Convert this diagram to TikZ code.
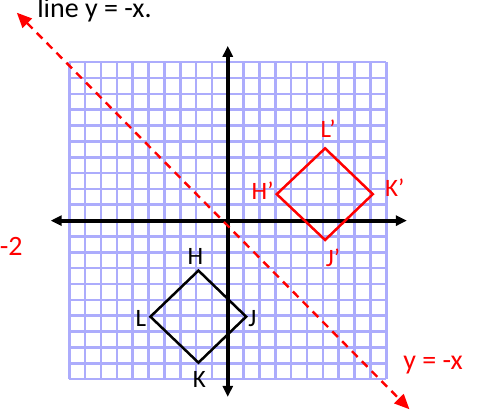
\documentclass[tikz,border=0pt]{standalone}
\usepackage{fontspec}
\setmainfont{Carlito}
\usetikzlibrary{arrows.meta,positioning}
\definecolor{gridblue}{RGB}{172,172,252}
\definecolor{refred}{RGB}{255,0,0}

\begin{document}
\begin{tikzpicture}[
    x=15.85pt, y=15.85pt,
    gridline/.style={gridblue, line width=2.6pt, step=15.85pt},
    axis/.style={<->, >={Triangle[length=11pt,width=10pt]}, line width=4pt},
    mirror/.style={<->, >={Triangle[length=15pt,width=13pt]}, refred, line width=2.4pt, dash pattern=on 8pt off 6pt},
    figline/.style={line width=2.5pt, line join=miter},
    lbl/.style={inner sep=1pt, font=\fontsize{25}{29}\selectfont},
    captext/.style={inner sep=0pt, font=\fontsize{28}{32}\selectfont}
]
    \useasboundingbox (-14.37,-12.07) rectangle (15.85,13.92);

    % grid and axes
    \draw[gridline] (-10,-10) grid (10,10);
    \coordinate (xl) at (-11.17,0);
    \coordinate (xr) at (11.3,0);
    \coordinate (yt) at (0,11.03);
    \coordinate (yb) at (0,-11.12);
    \draw[axis] (xl) -- (xr);
    \draw[axis] (yb) -- (yt);

    % line of reflection
    \coordinate (nw) at (-13.31,13.12);
    \coordinate (se) at (11.46,-11.9);
    \draw[mirror] (nw) -- (se);

    % original figure
    \coordinate (H) at (-1.85,-3.15);
    \coordinate (J) at (1.16,-6.06);
    \coordinate (K) at (-1.85,-8.96);
    \coordinate (L) at (-4.88,-6.06);
    \draw[figline] (H) -- (J) -- (K) -- (L) -- cycle;

    % image
    \coordinate (Hi) at (3.09,1.67);
    \coordinate (Li) at (6.14,4.56);
    \coordinate (Ki) at (9.15,1.67);
    \coordinate (Ji) at (6.14,-1.22);
    \draw[figline, refred] (Hi) -- (Li) -- (Ki) -- (Ji) -- cycle;

    \node[lbl, above=5pt of H, xshift=-3pt] (labH) {H};
    \node[lbl, right=1pt of J, yshift=-2pt] (labJ) {J};
    \node[lbl, below=8pt of K, xshift=1pt] (labK) {K};
    \node[lbl, left=3pt of L, yshift=-2pt] (labL) {L};

    \node[lbl, refred, left=2pt of Hi, yshift=3.5pt] (labHi) {H'};
    \node[lbl, refred, above=10pt of Li, xshift=3pt] (labLi) {L'};
    \node[lbl, refred, right=11pt of Ki, yshift=6pt] (labKi) {K'};
    \node[lbl, refred, below=8pt of Ji, xshift=8pt] (labJi) {J'};

    \node[captext, refred, anchor=base] (eqn) at (12.95,-9.42) {y = -x};
    \node[captext, anchor=base west] (title) at (-12.03,12.83) {line y = -x.};
    \node[captext, refred, anchor=base east] (cut) at (-12.93,-2.22) {-2};
\end{tikzpicture}
\end{document}
